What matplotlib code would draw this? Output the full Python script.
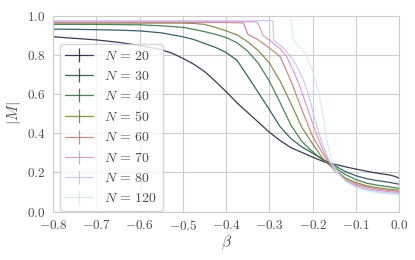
import matplotlib
matplotlib.use("Agg")
import matplotlib.pyplot as plt
import seaborn as sns

# |M| en funcion de beta
beta_20 = [-0.80, -0.75, -0.70, -0.65, -0.60, -0.55, -0.525, -0.50, -0.475, -0.45, -0.425,
           -0.40, -0.375, -0.35, -0.325, -0.30, -0.275, -0.25, -0.225, -0.20, -0.175,
           -0.15, -0.125, -0.10, -0.075, -0.05, -0.025, -0.01, 0.0]
m_20 = [0.892, 0.884, 0.876, 0.864, 0.848, 0.826, 0.808, 0.782, 0.752, 0.715, 0.665,
        0.612, 0.555, 0.505, 0.455, 0.405, 0.362, 0.326, 0.302, 0.278, 0.255,
        0.242, 0.229, 0.217, 0.206, 0.196, 0.188, 0.180, 0.170]

beta_30 = [-0.80, -0.75, -0.70, -0.65, -0.60, -0.55, -0.50, -0.475, -0.45, -0.425, -0.40,
           -0.375, -0.35, -0.325, -0.30, -0.275, -0.25, -0.225, -0.20, -0.175, -0.15,
           -0.125, -0.10, -0.075, -0.05, -0.025, 0.0]
m_30 = [0.931, 0.930, 0.928, 0.926, 0.922, 0.912, 0.892, 0.878, 0.858, 0.838, 0.812,
        0.772, 0.690, 0.605, 0.520, 0.432, 0.372, 0.330, 0.298, 0.265, 0.235,
        0.205, 0.183, 0.168, 0.158, 0.150, 0.140]

beta_40 = [-0.80, -0.70, -0.60, -0.55, -0.50, -0.475, -0.45, -0.425, -0.40, -0.375, -0.35,
           -0.325, -0.30, -0.275, -0.25, -0.225, -0.20, -0.175, -0.15, -0.125, -0.10,
           -0.075, -0.05, -0.025, 0.0]
m_40 = [0.955, 0.955, 0.953, 0.948, 0.940, 0.930, 0.918, 0.905, 0.888, 0.862, 0.818,
        0.755, 0.665, 0.555, 0.440, 0.358, 0.305, 0.260, 0.225, 0.190, 0.163,
        0.145, 0.135, 0.127, 0.119]

beta_50 = [-0.80, -0.50, -0.475, -0.45, -0.425, -0.40, -0.375, -0.35, -0.325, -0.30, -0.275,
           -0.25, -0.225, -0.20, -0.175, -0.15, -0.125, -0.10, -0.075, -0.05, -0.025, 0.0]
m_50 = [0.962, 0.962, 0.960, 0.955, 0.940, 0.922, 0.902, 0.866, 0.820, 0.758, 0.665,
        0.550, 0.430, 0.345, 0.265, 0.215, 0.172, 0.148, 0.132, 0.122, 0.115, 0.110]

beta_60 = [-0.80, -0.40, -0.36, -0.35, -0.325, -0.30, -0.275, -0.25, -0.225, -0.20, -0.175,
           -0.15, -0.125, -0.10, -0.075, -0.05, -0.025, 0.0]
m_60 = [0.965, 0.965, 0.963, 0.905, 0.875, 0.835, 0.790, 0.665, 0.520, 0.382, 0.290,
        0.210, 0.165, 0.140, 0.125, 0.115, 0.108, 0.103]

beta_70 = [-0.80, -0.33, -0.325, -0.315, -0.30, -0.29, -0.275, -0.26, -0.245, -0.23, -0.215,
           -0.20, -0.185, -0.17, -0.15, -0.125, -0.10, -0.075, -0.05, -0.025, 0.0]
m_70 = [0.968, 0.968, 0.955, 0.900, 0.875, 0.858, 0.830, 0.790, 0.720, 0.640, 0.545,
        0.450, 0.360, 0.285, 0.215, 0.160, 0.132, 0.117, 0.108, 0.102, 0.097]

beta_80 = [-0.80, -0.292, -0.29, -0.27, -0.255, -0.24, -0.225, -0.21, -0.195, -0.18, -0.165,
           -0.15, -0.125, -0.10, -0.075, -0.05, -0.025, 0.0]
m_80 = [0.974, 0.974, 0.875, 0.840, 0.800, 0.755, 0.690, 0.600, 0.470, 0.360, 0.275,
        0.215, 0.158, 0.127, 0.112, 0.102, 0.096, 0.090]

beta_120 = [-0.25, -0.245, -0.235, -0.222, -0.21, -0.20, -0.19, -0.183, -0.175, -0.168, -0.16,
            -0.15, -0.14, -0.125, -0.10, -0.075, -0.05, -0.025, 0.0]
m_120 = [0.987, 0.875, 0.850, 0.824, 0.775, 0.712, 0.640, 0.570, 0.480, 0.370, 0.290,
         0.225, 0.190, 0.155, 0.122, 0.105, 0.097, 0.090, 0.085]

tamanos = [20, 30, 40, 50, 60, 70, 80, 120]
betas = [beta_20, beta_30, beta_40, beta_50, beta_60, beta_70, beta_80, beta_120]
mags = [m_20, m_30, m_40, m_50, m_60, m_70, m_80, m_120]

sns.set_style("whitegrid")
plt.rcParams['font.family'] = 'serif'
plt.rcParams['font.serif'] = ['cmr10']
plt.rcParams['mathtext.fontset'] = 'cm'
plt.rcParams['axes.formatter.use_mathtext'] = True

colores = sns.color_palette("cubehelix", len(tamanos))

fig = plt.figure(figsize=(4.15, 2.6), dpi=100)
ax = fig.add_axes([0.128, 0.186, 0.834, 0.754])

for n, b, m, c in zip(tamanos, betas, mags, colores):
    ax.errorbar(b, m, yerr=0, color=c, lw=0.9, alpha=0.85, label=rf'$N \,=\, {n}$')

ax.set_xlim(-0.8, 0.0)
ax.set_ylim(0.0, 1.0)
ax.set_xticks([-0.8, -0.7, -0.6, -0.5, -0.4, -0.3, -0.2, -0.1, 0.0])
ax.set_yticks([0.0, 0.2, 0.4, 0.6, 0.8, 1.0])
ax.tick_params(labelsize=9.5, pad=2, labelcolor='0.3')
ax.set_xlabel(r'$\beta$', fontsize=11, labelpad=0, color='0.3')
ax.set_ylabel(r'$|M|$', fontsize=11, labelpad=3, color='0.3')

leg = ax.legend(loc='lower left', bbox_to_anchor=(0.019, 0.005), borderaxespad=0,
                fontsize=10, labelspacing=0.52)
for t in leg.get_texts():
    t.set_color('0.3')

fig.savefig('out.png', dpi=100)
